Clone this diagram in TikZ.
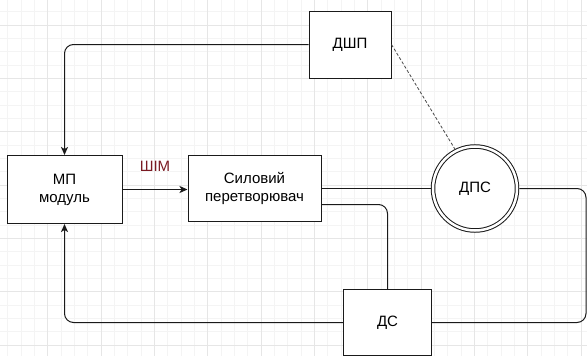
\documentclass[tikz,border=0pt]{standalone}
\usepackage{fontspec}
\setmainfont{Liberation Sans}
\usetikzlibrary{arrows.meta}
\definecolor{gminor}{HTML}{F4F4F4}
\definecolor{gmajor}{HTML}{E6E6E6}
\definecolor{linec}{HTML}{1A1A1A}
\definecolor{pwmred}{HTML}{7A1A22}
\tikzset{
  box/.style={draw=linec, line width=1pt, fill=white, inner sep=0pt, align=center, font=\fontsize{15}{18}\selectfont},
  conn/.style={draw=linec, line width=1pt, rounded corners=9pt},
  arr/.style={conn, -{Stealth[length=8pt,width=7pt,inset=2pt]}},
  dashconn/.style={draw=linec!80, line width=0.8pt, dash pattern=on 3pt off 2pt},
}
\begin{document}
\begin{tikzpicture}[x=1pt, y=-1pt]
\useasboundingbox (0,0) rectangle (587,356);
\fill[white] (0,0) rectangle (587,356);
% grid
\foreach \k in {0,...,43} {
  \pgfmathsetmacro\xx{7.7+13.333*\k}
  \draw[gminor, line width=0.8pt] (\xx,0) -- (\xx,356);
}
\foreach \k in {0,...,26} {
  \pgfmathsetmacro\yy{11.67+13.333*\k}
  \draw[gminor, line width=0.8pt] (0,\yy) -- (587,\yy);
}
\foreach \k in {0,...,10} {
  \pgfmathsetmacro\xx{47.7+53.333*\k}
  \draw[gmajor, line width=0.9pt] (\xx,0) -- (\xx,356);
}
\foreach \k in {0,...,6} {
  \pgfmathsetmacro\yy{25+53.333*\k}
  \draw[gmajor, line width=0.9pt] (0,\yy) -- (587,\yy);
}
% nodes
\node[box, minimum width=115pt, minimum height=68pt] (mp) at (64.5,189.5) {МП\\модуль};
\node[box, minimum width=133pt, minimum height=66pt] (sil) at (254.5,188.5) {Силовий\\перетворювач};
\node[box, minimum width=82pt, minimum height=67pt] (dshp) at (350,44.5) {ДШП};
\node[box, minimum width=88pt, minimum height=66pt] (ds) at (387.5,322.5) {ДС};
\node[draw=linec, line width=1pt, double, double distance=2.5pt, circle, fill=white, minimum size=84pt, inner sep=0pt, outer sep=2.25pt, font=\fontsize{15}{18}\selectfont] (dps) at (475,188.5) {ДПС};
\node[font=\fontsize{15}{18}\selectfont, text=pwmred] (pwm) at (155,166) {ШІМ};
\coordinate (rc) at (586,188.5);
% connectors
\draw[arr] (dshp.west) -| (mp.north);
\draw[arr] (mp.east) -- (sil.west |- mp.east);
\draw[conn] (sil.east) -- (dps.west);
\draw[conn] ([yshift=-16pt]sil.east) -| (ds.north);
\draw[conn] (dps.east) -- (rc) |- (ds.east);
\draw[arr] (ds.west) -| (mp.south);
\draw[dashconn] (dshp.east) -- (dps.117);
\end{tikzpicture}
\end{document}
